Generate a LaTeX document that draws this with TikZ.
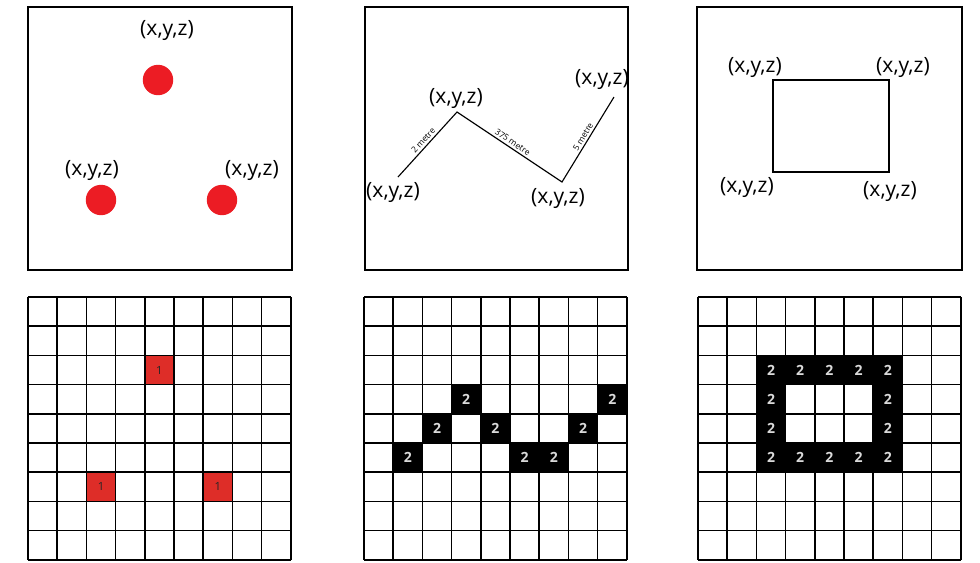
\documentclass[tikz,border=0pt]{standalone}
\usepackage{fontspec}
\setmainfont{Open Sans}

\definecolor{dotred}{RGB}{236,28,36}
\definecolor{cellred}{RGB}{222,45,40}

\tikzset{
  panel/.style={line width=0.9pt},
  xyzlabel/.style={font=\fontsize{15}{16}\selectfont,inner sep=0pt},
  reddot/.style={circle,fill=dotred,minimum size=0.76cm,inner sep=0pt},
  metrelabel/.style={font=\fontsize{6}{7}\selectfont,inner sep=1.5pt,above,sloped,midway},
  gridline/.style={line width=1.1pt},
  redcell/.style={fill=cellred,draw=cellred!75!black},
  blackcell/.style={fill=black},
  onetext/.style={font=\fontsize{8}{9}\selectfont,text=black!85},
  twotext/.style={font=\bfseries\fontsize{10}{11}\selectfont,text=white!85!black}
}

\begin{document}
\begin{tikzpicture}[x=0.025cm,y=-0.025cm]
\useasboundingbox (0,0) rectangle (980,562);

% top row: the three panels
\draw[panel] (28,7) rectangle (292,270);
\draw[panel] (365,7) rectangle (628,270);
\draw[panel] (697,7) rectangle (962,270);

% points
\node[reddot] (dota) at (158,80) {};
\node[reddot] (dotb) at (101,200) {};
\node[reddot] (dotc) at (222,200) {};
\node[xyzlabel] (pta) at (167,30) {(x,y,z)};
\node[xyzlabel] (ptb) at (92,170) {(x,y,z)};
\node[xyzlabel] (ptc) at (252,170) {(x,y,z)};

% line
\coordinate (la) at (398,177);
\coordinate (lb) at (457,112);
\coordinate (lc) at (562,182);
\coordinate (ld) at (614,97);
\draw[line width=0.8pt] (la) -- node[metrelabel] (ma) {2 metre}
  (lb) -- node[metrelabel] (mb) {375 metre}
  (lc) -- node[metrelabel] (mc) {5 metre} (ld);
\node[xyzlabel] (lta) at (393,192) {(x,y,z)};
\node[xyzlabel] (ltb) at (456,98) {(x,y,z)};
\node[xyzlabel] (ltc) at (558,198) {(x,y,z)};
\node[xyzlabel] (ltd) at (602,79) {(x,y,z)};

% polygon
\coordinate (ra) at (773,80);
\coordinate (rb) at (889,80);
\coordinate (rc) at (889,172);
\coordinate (rd) at (773,172);
\draw[line width=0.8pt] (ra) -- (rb) -- (rc) -- (rd) -- cycle;
\node[xyzlabel] (rta) at (755,67) {(x,y,z)};
\node[xyzlabel] (rtb) at (903,67) {(x,y,z)};
\node[xyzlabel] (rtc) at (890,191) {(x,y,z)};
\node[xyzlabel] (rtd) at (747,187) {(x,y,z)};

% bottom row: raster grids
\begin{scope}[shift={(28,297)},x=0.73cm,y=-0.73cm]
\draw[redcell] (4,2) rectangle (5,3);
\draw[redcell] (2,6) rectangle (3,7);
\draw[redcell] (6,6) rectangle (7,7);
\node[onetext] (ca) at (4.5,2.5) {1};
\node[onetext] (cb) at (2.5,6.5) {1};
\node[onetext] (cc) at (6.5,6.5) {1};
\foreach \i in {0,...,9} {
  \draw[gridline] (\i,0) -- (\i,9);
  \draw[gridline] (0,\i) -- (9,\i);
}
\end{scope}

\begin{scope}[shift={(364,297)},x=0.73cm,y=-0.73cm]
\foreach \c/\r [count=\k] in {1/5,2/4,3/3,4/4,5/5,6/5,7/4,8/3} {
  \fill[blackcell] (\c,\r) rectangle ++(1,1);
  \node[twotext] (lcell\k) at (\c+0.5,\r+0.5) {2};
}
\foreach \i in {0,...,9} {
  \draw[gridline] (\i,0) -- (\i,9);
  \draw[gridline] (0,\i) -- (9,\i);
}
\end{scope}

\begin{scope}[shift={(698,297)},x=0.73cm,y=-0.73cm]
\foreach \c/\r [count=\k] in {2/2,3/2,4/2,5/2,6/2,2/3,6/3,2/4,6/4,2/5,3/5,4/5,5/5,6/5} {
  \fill[blackcell] (\c,\r) rectangle ++(1,1);
  \node[twotext] (pcell\k) at (\c+0.5,\r+0.5) {2};
}
\foreach \i in {0,...,9} {
  \draw[gridline] (\i,0) -- (\i,9);
  \draw[gridline] (0,\i) -- (9,\i);
}
\end{scope}
\end{tikzpicture}
\end{document}
